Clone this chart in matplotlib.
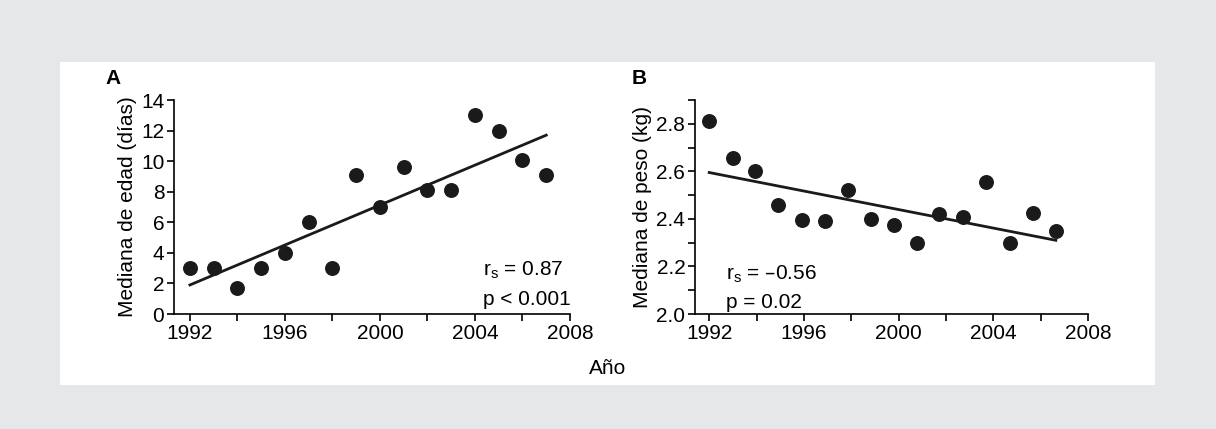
import matplotlib.pyplot as plt
import matplotlib.patches as mpatches

plt.rcParams['font.family'] = ['Liberation Sans', 'DejaVu Sans']

# panel A: median age (days)
years_a = [1992, 1993, 1994, 1995, 1996, 1997, 1998, 1999, 2000, 2001, 2002, 2003, 2004, 2005, 2006, 2007]
edad = [3.0, 3.0, 1.7, 3.0, 4.0, 6.0, 3.0, 9.1, 7.0, 9.6, 8.1, 8.1, 13.0, 12.0, 10.1, 9.1]
fit_a_x = [1992, 2007]
fit_a_y = [1.9, 11.7]

# panel B: median weight (kg)
years_b = [1992.0, 1993.0, 1993.94, 1994.9, 1995.9, 1996.9, 1997.87, 1998.85, 1999.8,
           2000.76, 2001.7, 2002.7, 2003.7, 2004.7, 2005.66, 2006.64]
peso = [2.81, 2.655, 2.60, 2.46, 2.395, 2.39, 2.52, 2.40, 2.375, 2.30, 2.42, 2.41, 2.555, 2.30, 2.425, 2.35]
fit_b_x = [1992.0, 2006.64]
fit_b_y = [2.595, 2.31]

xticks = [1992, 1996, 2000, 2004, 2008]

W, H = 1216, 429
fs = 15
fig = plt.figure(figsize=(W / 100, H / 100), dpi=100)
fig.patch.set_facecolor('#e6e7e8')
fig.patches.append(mpatches.Rectangle((60 / W, 1 - 385 / H), (1155 - 60) / W, (385 - 62) / H,
                                      transform=fig.transFigure, facecolor='white',
                                      edgecolor='none', zorder=-5))


def style(ax):
    for s in ['top', 'right']:
        ax.spines[s].set_visible(False)
    ax.spines['left'].set_linewidth(1.2)
    ax.spines['bottom'].set_linewidth(1.2)
    ax.set_facecolor('none')
    ax.tick_params(labelsize=fs, width=1.2, length=5, pad=2)
    ax.tick_params(which='minor', width=1.2, length=5)
    ax.set_xticks(xticks)
    ax.set_xticklabels([str(t) for t in xticks])
    ax.set_xticks([1994, 1998, 2002, 2006], minor=True)


axa = fig.add_axes([174 / W, 1 - 314 / H, (570 - 174) / W, (314 - 100) / H])
axa.scatter(years_a, edad, s=95, color='#1a1a1a', zorder=3)
axa.plot(fit_a_x, fit_a_y, color='#1a1a1a', lw=2)
axa.set_xlim(1991.33, 2008)
axa.set_ylim(0, 14)
axa.set_yticks(range(0, 15, 2))
axa.set_ylabel('Mediana de edad (días)', fontsize=fs, labelpad=3)
style(axa)
axa.text(0.78, 0.18, 'r$_\\mathregular{s}$ = 0.87', transform=axa.transAxes, fontsize=fs)
axa.text(0.78, 0.04, 'p < 0.001', transform=axa.transAxes, fontsize=fs)
fig.text(105 / W, 1 - 78 / H, 'A', fontsize=fs, fontweight='bold', va='center')

axb = fig.add_axes([695 / W, 1 - 314 / H, (1088 - 695) / W, (314 - 100) / H])
axb.scatter(years_b, peso, s=95, color='#1a1a1a', zorder=3)
axb.plot(fit_b_x, fit_b_y, color='#1a1a1a', lw=2)
axb.set_xlim(1991.4, 2008)
axb.set_ylim(2.0, 2.9)
axb.set_yticks([2.0, 2.2, 2.4, 2.6, 2.8])
axb.set_yticklabels(['2.0', '2.2', '2.4', '2.6', '2.8'])
axb.set_yticks([2.1, 2.3, 2.5, 2.7, 2.9], minor=True)
axb.set_ylabel('Mediana de peso (kg)', fontsize=fs, labelpad=3)
style(axb)
axb.text(0.08, 0.16, 'r$_\\mathregular{s}$ = \u20130.56', transform=axb.transAxes, fontsize=fs)
axb.text(0.08, 0.03, 'p = 0.02', transform=axb.transAxes, fontsize=fs)
fig.text(632 / W, 1 - 78 / H, 'B', fontsize=fs, fontweight='bold', va='center')

fig.text(608 / W, 1 - 368 / H, 'Año', fontsize=fs, ha='center', va='center')

fig.savefig('out.png', dpi=100, facecolor=fig.get_facecolor())
